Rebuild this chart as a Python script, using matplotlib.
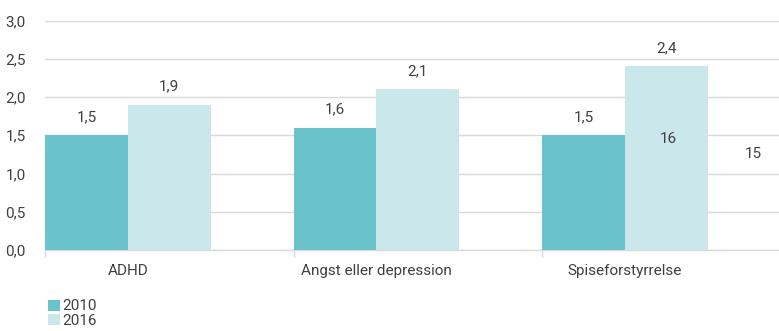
import matplotlib
matplotlib.use("Agg")
import matplotlib.pyplot as plt
import numpy as np

categories = ["ADHD", "Angst eller depression", "Spiseforstyrrelse"]
series_names = ["2010", "2016"]
values_2010 = [1.5, 1.6, 1.5]
values_2016 = [1.9, 2.1, 2.4]
labels_2010 = ["1,5", "1,6", "1,5"]
labels_2016 = ["1,9", "2,1", "2,4"]
extra_labels = ["16", "15"]
extra_x = [2.51, 2.85]
extra_y = [1.45, 1.25]
y_ticks = [0.0, 0.5, 1.0, 1.5, 2.0, 2.5, 3.0]
y_tick_labels = ["0,0", "0,5", "1,0", "1,5", "2,0", "2,5", "3,0"]

c2010 = "#6AC3CB"
c2016 = "#CAE7EB"
txt = "#404040"
grid = "#D9D9D9"

plt.rcParams['font.family'] = ['Roboto', 'DejaVu Sans']
fs = 11

fig = plt.figure(figsize=(7.79, 3.31), dpi=100)
ax = fig.add_axes([45/779, 81/331, 1 - 45/779, (250-20.5)/331])

x = np.arange(len(categories))
w = 1/3
b1 = ax.bar(x + w/2, values_2010, width=w, color=c2010, label=series_names[0], zorder=3)
b2 = ax.bar(x + 1.5*w, values_2016, width=w, color=c2016, label=series_names[1], zorder=3)

for rect, lab in zip(b1, labels_2010):
    ax.annotate(lab, (rect.get_x() + rect.get_width()/2, rect.get_height()),
                xytext=(0, 13), textcoords="offset points", ha="center", va="center",
                fontsize=fs, color=txt)
for rect, lab in zip(b2, labels_2016):
    ax.annotate(lab, (rect.get_x() + rect.get_width()/2, rect.get_height()),
                xytext=(0, 13), textcoords="offset points", ha="center", va="center",
                fontsize=fs, color=txt)
for ex, ey, lab in zip(extra_x, extra_y, extra_labels):
    ax.text(ex, ey, lab, ha="center", va="center", fontsize=fs, color=txt, zorder=4)

ax.set_xlim(0, (779-45)/248.5)
ax.set_ylim(0, 3.0)
ax.set_yticks(y_ticks)
ax.set_yticklabels(y_tick_labels, fontsize=fs, color=txt)
ax.yaxis.grid(True, color=grid, linewidth=1, zorder=0)
ax.tick_params(axis="y", length=0, pad=14)

ax.set_xticks(x, minor=False)
ax.set_xticklabels([])
ax.tick_params(axis="x", length=5, color=grid, width=1, direction="out")
for i, cat in enumerate(categories):
    ax.text(i + w, -0.27, cat, ha="center", va="center", fontsize=fs, color=txt,
            transform=ax.transData)

for s in ["left", "right", "top"]:
    ax.spines[s].set_visible(False)
ax.spines["bottom"].set_color(grid)
ax.spines["bottom"].set_linewidth(1)

leg = fig.legend(handles=[b1, b2], labels=series_names, loc="lower left",
                 bbox_to_anchor=(42/779, -0.01), frameon=False, fontsize=fs,
                 handlelength=0.75, handleheight=0.75, handletextpad=0.2,
                 labelspacing=0.05, borderaxespad=0)
for t in leg.get_texts():
    t.set_color(txt)

fig.savefig("out.png", dpi=100)
